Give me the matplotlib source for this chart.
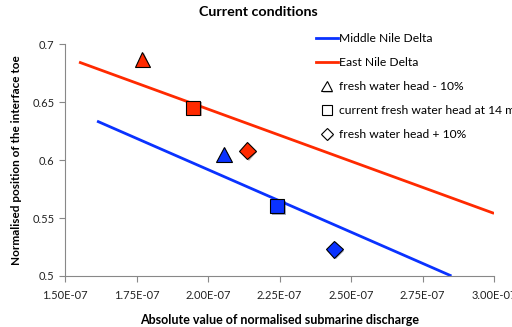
import matplotlib.pyplot as plt
import matplotlib.patheffects as pe
from matplotlib.lines import Line2D

plt.rcParams['font.family'] = ['Lato', 'DejaVu Sans']

# Líneas de tendencia (extremos)
mid_line_x = [1.612e-7, 2.851e-7]
mid_line_y = [0.6336, 0.5]
east_line_x = [1.549e-7, 3.0e-7]
east_line_y = [0.6845, 0.554]

# Escenarios: -10%, actual, +10%
east_x = [1.77e-7, 1.948e-7, 2.137e-7]
east_y = [0.687, 0.645, 0.608]
mid_x = [2.056e-7, 2.242e-7, 2.441e-7]
mid_y = [0.605, 0.560, 0.523]

marcadores = ['^', 's', 'D']
tamanos = [11, 10, 8.5]
etiquetas_escenario = ['fresh water head - 10%', 'current fresh water head at 14 m', 'fresh water head + 10%']

xticks = [1.50e-7, 1.75e-7, 2.00e-7, 2.25e-7, 2.50e-7, 2.75e-7, 3.00e-7]
xtick_labels = ['1.50E-07', '1.75E-07', '2.00E-07', '2.25E-07', '2.50E-07', '2.75E-07', '3.00E-07']
yticks = [0.5, 0.55, 0.6, 0.65, 0.7]
ytick_labels = ['0.5', '0.55', '0.6', '0.65', '0.7']

azul = '#0A32FF'
rojo = '#FF2A00'
gris = '#888888'

fig = plt.figure(figsize=(5.12, 3.27), dpi=100)
ax = fig.add_axes([0.127, 0.156, 0.838, 0.709])

ax.plot(mid_line_x, mid_line_y, color=azul, lw=2.0, solid_capstyle='butt')
ax.plot(east_line_x, east_line_y, color=rojo, lw=2.0, solid_capstyle='butt')

sombra = [pe.SimplePatchShadow(offset=(1, -1), alpha=0.35), pe.Normal()]
for i in range(3):
    ax.plot(east_x[i], east_y[i], marker=marcadores[i], ms=tamanos[i], color=rojo,
            mec='black', mew=0.8, ls='none', path_effects=sombra, zorder=3)
    ax.plot(mid_x[i], mid_y[i], marker=marcadores[i], ms=tamanos[i], color=azul,
            mec='black', mew=0.8, ls='none', path_effects=sombra, zorder=3)

ax.set_xlim(1.5e-7, 3.0e-7)
ax.set_ylim(0.5, 0.7)
ax.set_xticks(xticks)
ax.set_xticklabels(xtick_labels)
ax.set_yticks(yticks)
ax.set_yticklabels(ytick_labels)
ax.tick_params(axis='both', labelsize=8, color=gris, length=4, width=0.8, labelcolor='#222222')
ax.tick_params(axis='x', pad=6)
for lado in ['top', 'right']:
    ax.spines[lado].set_visible(False)
for lado in ['left', 'bottom']:
    ax.spines[lado].set_color(gris)
    ax.spines[lado].set_linewidth(0.8)

fig.text(0.504, 0.962, 'Current conditions', ha='center', va='center', fontsize=10.3, fontweight='bold')
ax.set_xlabel('Absolute value of normalised submarine discharge', fontsize=9, fontweight='bold')
ax.xaxis.set_label_coords(0.5, -0.162)
ax.set_ylabel('Normalised position of the interface toe', fontsize=8.5, fontweight='bold')
ax.yaxis.set_label_coords(-0.1, 0.5)

handles = [Line2D([], [], color=azul, lw=2.0), Line2D([], [], color=rojo, lw=2.0)]
for i in range(3):
    handles.append(Line2D([], [], marker=marcadores[i], ms=tamanos[i] * 0.7, color='white',
                          mec='black', mew=0.8, ls='none',
                          path_effects=[pe.SimplePatchShadow(offset=(1, -1), alpha=0.3), pe.Normal()]))
labels = ['Middle Nile Delta', 'East Nile Delta'] + etiquetas_escenario
leg = fig.legend(handles, labels, loc='upper left', bbox_to_anchor=(0.605, 0.917), frameon=False,
                 fontsize=8.7, handlelength=1.8, handletextpad=0.15, labelspacing=1.08, borderpad=0)

plt.savefig('out.png', dpi=100)
